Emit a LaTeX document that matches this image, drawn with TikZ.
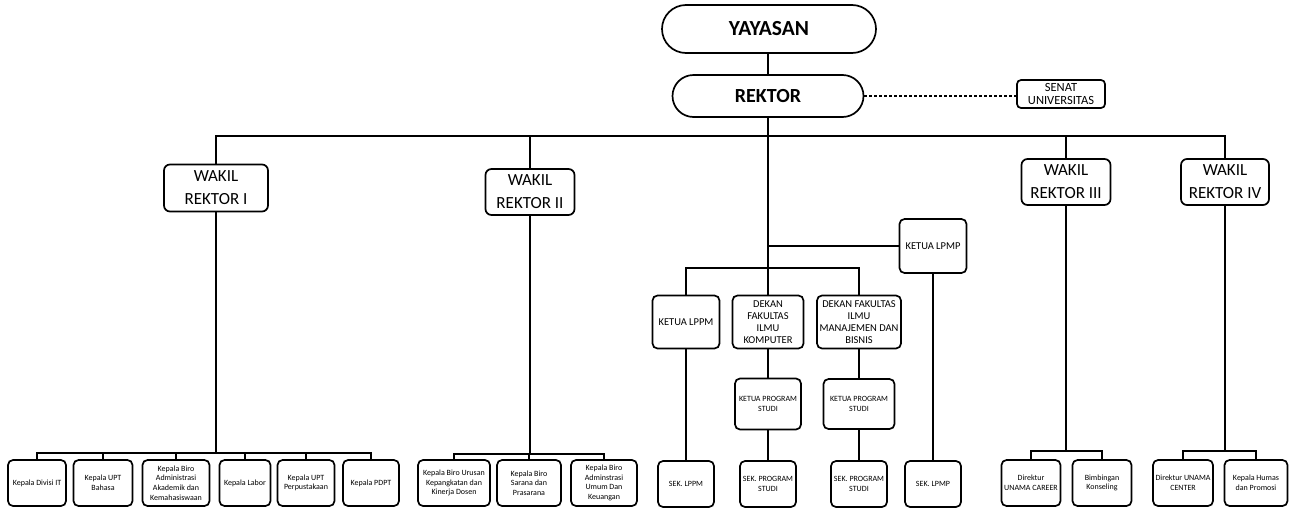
\documentclass[tikz,border=0pt]{standalone}
\usepackage{fontspec}
\setmainfont{Carlito}
\usetikzlibrary{calc, positioning, shapes.misc}

\begin{document}
\begin{tikzpicture}[-,x=1pt,y=-1pt,line width=1.7pt,
                    top node/.style={rounded rectangle,draw,fill=white,inner sep=0pt,font=\fontsize{20}{24}\selectfont\bfseries},
                    wakil node/.style={rectangle,rounded corners=6pt,draw,fill=white,align=center,inner sep=0pt,font=\fontsize{17}{23}\selectfont},
                    mid node/.style={rectangle,rounded corners=5pt,draw,fill=white,align=center,inner sep=0pt,font=\fontsize{10.5}{12}\selectfont},
                    low node/.style={rectangle,rounded corners=5pt,draw,fill=white,align=center,inner sep=0pt,minimum height=46pt,font=\fontsize{8}{9.7}\selectfont}]
\useasboundingbox (0,0) rectangle (1290,509);

% pimpinan
\node[top node,minimum width=214pt,minimum height=48pt,font=\fontsize{21.5}{24}\selectfont\bfseries] (yayasan) at (769,29) {YAYASAN};
\node[top node,minimum width=191pt,minimum height=42pt] (rektor) at (768,96) {REKTOR};
\node[mid node,rounded corners=4pt,minimum width=88pt,minimum height=28pt,font=\fontsize{12.5}{13}\selectfont] (senat) at (1061,94) {SENAT\\UNIVERSITAS};

\node[wakil node,minimum width=104pt,minimum height=47pt] (wr1) at (216,188) {WAKIL\\REKTOR I};
\node[wakil node,minimum width=89pt,minimum height=46pt] (wr2) at (530,192) {WAKIL\\REKTOR II};
\node[wakil node,minimum width=89pt,minimum height=46pt] (wr3) at (1066,182) {WAKIL\\REKTOR III};
\node[wakil node,minimum width=88pt,minimum height=46pt] (wr4) at (1225,182) {WAKIL\\REKTOR IV};

% lembaga dan fakultas
\node[mid node,minimum width=67pt,minimum height=54pt] (lpmp) at (933,246) {KETUA LPMP};
\node[mid node,minimum width=67pt,minimum height=53pt] (lppm) at (686,322) {KETUA LPPM};
\node[mid node,minimum width=71pt,minimum height=53pt] (fik) at (768,322) {DEKAN\\FAKULTAS\\ILMU\\KOMPUTER};
\node[mid node,minimum width=84pt,minimum height=53pt] (fimb) at (859,322) {DEKAN FAKULTAS\\ILMU\\MANAJEMEN DAN\\BISNIS};
\node[mid node,minimum width=66pt,minimum height=51pt,font=\fontsize{8}{10}\selectfont] (kps1) at (768,404) {KETUA PROGRAM\\STUDI};
\node[mid node,minimum width=71pt,minimum height=50pt,font=\fontsize{8}{10}\selectfont] (kps2) at (859,404) {KETUA PROGRAM\\STUDI};

% baris bawah
\foreach \nm/\x/\w/\txt in {divit/37/58/{Kepala Divisi IT},
                            bahasa/103/59/{Kepala UPT\\Bahasa},
                            biroak/176/67/{Kepala Biro\\Administrasi\\Akademik dan\\Kemahasiswaan},
                            labor/245/51/{Kepala Labor},
                            perpus/306/57/{Kepala UPT\\Perpustakaan},
                            pdpt/371/56/{Kepala PDPT},
                            kepang/454/72/{Kepala Biro Urusan\\Kepangkatan dan\\Kinerja Dosen},
                            sarana/529/64/{Kepala Biro\\Sarana dan\\Prasarana},
                            umum/604/66/{Kepala Biro\\Adminstrasi\\Umum Dan\\Keuangan},
                            career/1031/59/{Direktur\\UNAMA CAREER},
                            bk/1102/59/{Bimbingan\\Konseling},
                            center/1183/60/{Direktur UNAMA\\CENTER},
                            humas/1256/63/{Kepala Humas\\dan Promosi}}
   \node[low node,minimum width=\w pt] (\nm) at (\x,483) {\txt};

\foreach \nm/\x/\txt in {slppm/686/{SEK. LPPM},
                         sps1/768/{SEK. PROGRAM\\STUDI},
                         sps2/859/{SEK. PROGRAM\\STUDI},
                         slpmp/933/{SEK. LPMP}}
   \node[low node,minimum width=56pt,font=\fontsize{8}{10}\selectfont] (\nm) at (\x,484) {\txt};

% garis
\draw (yayasan.south -| rektor) -- (rektor.north);
\draw[dash pattern=on 3pt off 2pt] (rektor.east) -- (rektor.east -| senat.west);

\coordinate (topBus) at (768,136);
\draw (wr1.north) |- (topBus) -| (wr4.north);
\foreach \w in {wr2,wr3}
   \draw (\w.north) -- (\w.north |- topBus);

\draw (rektor.south) -- (fik.north);
\draw (lpmp.west) -- (lpmp.west -| fik);
\coordinate (midBus) at (768,268);
\draw (lppm.north) |- (midBus) -| (fimb.north);
\draw (fik.south) -- (kps1.north);
\draw (kps1.south) -- (sps1.north);
\draw (fimb.south) -- (kps2.north);
\draw (kps2.south) -- (sps2.north);
\draw (lppm.south) -- (slppm.north);
\draw (lpmp.south) -- (slpmp.north);

\coordinate (busOne) at (216,453);
\draw (wr1.south) -- (busOne);
\draw (divit.north) |- (busOne) -| (pdpt.north);
\foreach \n in {bahasa,biroak,labor,perpus}
   \draw (\n.north) -- (\n.north |- busOne);

\coordinate (busTwo) at (530,454);
\draw (wr2.south) -- (busTwo);
\draw (kepang.north) |- (busTwo) -| (umum.north);
\draw (sarana.north) -- (sarana.north |- busTwo);

\coordinate (busThree) at (1066,451);
\draw (wr3.south) -- (busThree);
\draw (career.north) |- (busThree) -| (bk.north);

\coordinate (busFour) at (1225,451);
\draw (wr4.south) -- (busFour);
\draw (center.north) |- (busFour) -| (humas.north);
\end{tikzpicture}
\end{document}
